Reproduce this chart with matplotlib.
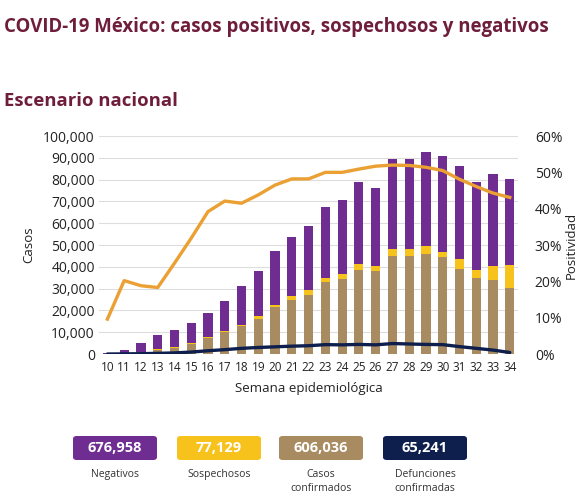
import numpy as np
import matplotlib
matplotlib.use("Agg")
import matplotlib.pyplot as plt
from matplotlib.patches import FancyBboxPatch
from matplotlib.ticker import FuncFormatter

plt.rcParams['font.family'] = ['Open Sans', 'DejaVu Sans']

# semanas epidemiologicas
semanas = list(range(10, 35))

# casos confirmados por semana
confirmados = [100, 300, 600, 2000, 2900, 4600, 7300, 10000, 12700, 16000,
               21500, 24800, 27300, 33000, 34400, 38600, 38200, 45000, 45000, 45800,
               44700, 39100, 34800, 34000, 30100]
# sospechosos por semana
sospechosos = [0, 50, 100, 200, 250, 300, 400, 500, 700, 1300,
               900, 1700, 1900, 2000, 2200, 2800, 2400, 3100, 3100, 3700,
               2300, 4400, 3800, 6200, 10700]
# negativos por semana
negativos = [200, 1650, 4300, 6700, 7950, 9100, 10900, 13600, 17900, 20600,
             24900, 27100, 29300, 32600, 34100, 37500, 35400, 41400, 41400, 43200,
             43800, 42600, 40300, 42500, 39400]
# defunciones por semana
defunciones = [0, 50, 150, 300, 500, 900, 1500, 2000, 2600, 3000,
               3300, 3600, 3800, 4300, 4200, 4400, 4200, 4800, 4600, 4400,
               4300, 3400, 2600, 1800, 700]
# positividad (%)
positividad = [9.6, 20.2, 18.8, 18.3, 25.0, 31.9, 39.2, 42.1, 41.5, 43.8,
               46.5, 48.2, 48.2, 50.0, 50.0, 50.9, 51.7, 52.0, 51.9, 51.4,
               50.5, 48.1, 46.1, 44.3, 43.1]

# totales
tot_labels = ['Negativos', 'Sospechosos', 'Casos\nconfirmados', 'Defunciones\nconfirmadas']
tot_values = ['676,958', '77,129', '606,036', '65,241']

c_neg = '#6F2C91'
c_sos = '#F7C21C'
c_conf = '#A98B61'
c_def = '#0E1F4D'
c_pos = '#EBA033'
c_title = '#6E1E3A'

fig = plt.figure(figsize=(5.87, 4.97), dpi=100)
fig.patch.set_facecolor('white')

fig.text(0.006, 0.945, 'COVID-19 México: casos positivos, sospechosos y negativos',
         color=c_title, fontsize=13.4, fontweight='bold', va='center', ha='left')
fig.text(0.006, 0.797, 'Escenario nacional', color=c_title, fontsize=13.3,
         fontweight='bold', va='center', ha='left')

ax = fig.add_axes([0.1687, 0.2877, 0.714, 0.4386])
x = np.array(semanas)
conf = np.array(confirmados)
sos = np.array(sospechosos)
neg = np.array(negativos)
w = 0.55
ax.bar(x, conf, w, color=c_conf, zorder=2)
ax.bar(x, sos, w, bottom=conf, color=c_sos, zorder=2)
ax.bar(x, neg, w, bottom=conf + sos, color=c_neg, zorder=2)
ax.plot(x, defunciones, color=c_def, lw=2.4, zorder=3, solid_capstyle='round')

ax.set_xlim(9.5, 34.5)
ax.set_ylim(0, 100000)
ax.set_yticks(range(0, 100001, 10000))
ax.yaxis.set_major_formatter(FuncFormatter(lambda v, p: f'{int(v):,}'))
ax.set_xticks(semanas)
ax.tick_params(axis='x', labelsize=8.5, length=0, pad=5, colors='#222222')
ax.tick_params(axis='y', labelsize=10, length=0, pad=3, colors='#222222')
ax.grid(axis='y', color='#DDDDDD', lw=0.8, zorder=0)
ax.set_axisbelow(True)
for s in ax.spines.values():
    s.set_visible(False)
ax.set_facecolor('none')
ax.set_ylabel('Casos', fontsize=9.5, labelpad=6, color='#222222')
ax.set_xlabel('Semana epidemiológica', fontsize=9.5, labelpad=6, color='#222222')

ax2 = ax.twinx()
ax2.plot(x, np.array(positividad) / 100, color=c_pos, lw=2.4, zorder=4)
ax2.set_ylim(0, 0.6)
ax2.set_yticks(np.arange(0, 0.61, 0.1))
ax2.yaxis.set_major_formatter(FuncFormatter(lambda v, p: f'{v*100:.0f}%'))
ax2.tick_params(axis='y', labelsize=10, length=0, pad=12, colors='#222222')
for s in ax2.spines.values():
    s.set_visible(False)
ax2.set_ylabel('Positividad', fontsize=9.5, labelpad=2, color='#222222')

# cajas de totales
box_colors = [c_neg, c_sos, c_conf, c_def]
box_x = [73, 177, 279, 383]
for bx, col, val, lab in zip(box_x, box_colors, tot_values, tot_labels):
    x0 = bx / 587
    y0 = 1 - 460 / 497
    bw = 84 / 587
    bh = 24 / 497
    fig.patches.append(FancyBboxPatch((x0, y0), bw, bh, boxstyle='round,pad=0,rounding_size=0.006',
                                      transform=fig.transFigure, facecolor=col, edgecolor='none'))
    fig.text(x0 + bw / 2, y0 + bh / 2, val, color='white', fontsize=10.5, fontweight='bold',
             ha='center', va='center')
    fig.text(x0 + bw / 2, 1 - 469 / 497, lab, color='#333333', fontsize=7.5,
             ha='center', va='top', linespacing=1.35)

fig.savefig('out.png', dpi=100, facecolor='white')
